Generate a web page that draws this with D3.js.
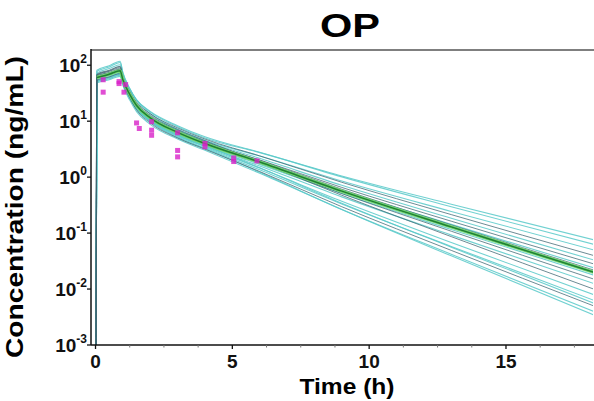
<!DOCTYPE html>
<html>
<head>
<meta charset="utf-8">
<script src="https://cdn.jsdelivr.net/npm/d3@7/dist/d3.min.js"></script>
<style>
  html, body { margin: 0; padding: 0; background: #fff; }
  svg { display: block; }
  text { font-family: "Liberation Sans", Arial, Helvetica, sans-serif; }
</style>
</head>
<body>
<svg id="chart" width="594" height="401"></svg>
<script>
// ---------- data ----------
const title = "OP";
const xLabel = "Time (h)";
const yLabel = "Concentration (ng/mL)";
const xTicks = [0, 5, 10, 15];
const xMinorTicks = [1.25, 2.5, 3.75, 6.25, 7.5, 8.75, 11.25, 12.5, 13.75, 16.25, 17.5];
const yTickExponents = [-3, -2, -1, 0, 1, 2];

// simulation time grid (h)
const simTimes = [0.02, 0.05, 0.5, 0.9, 1.0, 1.25, 1.5, 2, 3, 4, 6, 9, 13, 18.2];
// simulated individual profiles (ng/mL)
const simCurves = [
  [0.001, 77.6, 93.3, 112, 72.4, 38.0, 24.0, 14.5, 7.94, 5.01, 2.74, 1.05, 0.328, 0.0759],
  [0.001, 72.4, 87.1, 102, 66.1, 37.0, 24.0, 14.9, 8.32, 5.25, 2.78, 1.01, 0.296, 0.0631],
  [0.001, 81.3, 97.7, 118, 74.1, 38.7, 23.4, 13.6, 7.24, 4.57, 2.39, 0.853, 0.244, 0.0501],
  [0.001, 66.1, 77.6, 89.1, 60.3, 33.7, 21.9, 13.6, 7.59, 4.79, 2.40, 0.809, 0.214, 0.0398],
  [0.001, 57.5, 66.1, 75.9, 52.5, 29.6, 19.5, 12.2, 6.92, 4.37, 2.17, 0.715, 0.184, 0.0331],
  [0.001, 69.2, 81.3, 95.5, 63.1, 34.0, 20.9, 12.2, 6.61, 4.17, 2.03, 0.655, 0.163, 0.0282],
  [0.001, 60.3, 69.2, 79.4, 55.0, 29.9, 18.6, 11.1, 6.03, 3.80, 1.84, 0.583, 0.143, 0.0240],
  [0.001, 63.1, 72.4, 83.2, 57.5, 31.8, 20.2, 12.2, 6.76, 4.27, 2.00, 0.608, 0.140, 0.0219],
  [0.001, 55.0, 63.1, 72.4, 50.1, 27.5, 17.4, 10.5, 5.75, 3.63, 1.69, 0.508, 0.116, 0.0178],
  [0.001, 67.6, 79.4, 93.3, 61.7, 33.1, 20.2, 11.7, 6.31, 3.98, 1.79, 0.509, 0.108, 0.0151],
  [0.001, 52.5, 60.3, 69.2, 47.9, 26.4, 16.8, 10.2, 5.62, 3.55, 1.58, 0.444, 0.0920, 0.0126],
  [0.001, 64.6, 74.1, 85.1, 58.9, 32.7, 20.9, 12.8, 7.08, 4.47, 1.86, 0.474, 0.0865, 0.0100],
  [0.001, 50.1, 57.5, 66.1, 45.7, 25.4, 16.2, 9.91, 5.50, 3.47, 1.45, 0.371, 0.0681, 0.00794],
  [0.001, 60.3, 69.2, 79.4, 55.0, 29.1, 17.4, 9.91, 5.25, 3.31, 1.35, 0.332, 0.0578, 0.00631],
  [0.001, 53.7, 61.7, 70.8, 49.0, 26.3, 16.0, 9.33, 5.01, 3.16, 1.26, 0.296, 0.0491, 0.00501],
  [0.001, 47.9, 55.0, 63.1, 43.7, 23.8, 14.8, 8.79, 4.79, 3.02, 1.17, 0.265, 0.0417, 0.00398],
  [0.001, 63.1, 72.4, 83.2, 57.5, 30.1, 17.6, 9.82, 5.13, 3.24, 1.22, 0.264, 0.0392, 0.00347],
  [0.001, 51.3, 58.9, 67.6, 46.8, 26.2, 17.0, 10.5, 5.89, 3.72, 1.47, 0.343, 0.0560, 0.00562]
];
// 'c' = cyan profile, 'd' = dark profile
const simKinds = ["c","c","c","d","c","d","c","d","c","d","c","d","c","c","d","c","c","c"];
// median profile (ng/mL)
const medianCurve = [0.001, 60.3, 69.2, 79.4, 55.0, 30.2, 19.1, 11.5, 6.31, 3.98, 1.86, 0.562, 0.129, 0.0200];

// observed concentrations
const obsTime = [0.28, 0.28, 0.86, 0.86, 1.1, 1.04, 1.5, 1.6, 2.05, 2.05, 2.05, 3.0, 3.0, 3.0, 4.0, 4.0, 5.05, 5.05, 5.9];
const obsConc = [55, 33, 47, 51, 45, 33, 9.3, 7.4, 9.8, 6.9, 5.6, 6.2, 3.0, 2.3, 4.0, 3.5, 2.2, 1.9, 1.95];

// ---------- layout ----------
const svg = d3.select("#chart");
const plotLeft = 91, plotRight = 593, plotTop = 49, plotBottom = 345;

const x = d3.scaleLinear().domain([-0.165, 18.18]).range([plotLeft, plotRight]);
const y = d3.scaleLog().domain([1e-3, Math.pow(10, 2.29)]).range([plotBottom, plotTop]);

svg.append("defs").append("clipPath").attr("id", "clip")
  .append("rect").attr("x", plotLeft).attr("y", plotTop)
  .attr("width", plotRight - plotLeft).attr("height", plotBottom - plotTop);

const line = d3.line()
  .x(d => x(d[0]))
  .y(d => y(d[1]))
  .curve(d3.curveMonotoneX);
const pairs = c => c.map((v, i) => [simTimes[i], v]);

const g = svg.append("g").attr("clip-path", "url(#clip)");

// cyan curves
simCurves.forEach((c, i) => {
  if (simKinds[i] !== "c") return;
  g.append("path").attr("d", line(pairs(c)))
    .attr("fill", "none").attr("stroke", "#58c9c9")
    .attr("stroke-width", 1.1).attr("stroke-opacity", 0.85);
});
// dark curves
simCurves.forEach((c, i) => {
  if (simKinds[i] !== "d") return;
  g.append("path").attr("d", line(pairs(c)))
    .attr("fill", "none").attr("stroke", "#3f6672")
    .attr("stroke-width", 0.9).attr("stroke-opacity", 0.85);
});
// median (drawn from its first plateau point onward)
const medPairs = pairs(medianCurve).slice(1);
g.append("path").attr("d", line(medPairs))
  .attr("fill", "none").attr("stroke", "#72d672").attr("stroke-width", 3.4);
g.append("path").attr("d", line(medPairs))
  .attr("fill", "none").attr("stroke", "#1f7f33").attr("stroke-width", 1.5);

// observed points
g.selectAll("rect.obs").data(obsTime).join("rect")
  .attr("class", "obs")
  .attr("x", (d) => x(d) - 2.5)
  .attr("y", (d, i) => y(obsConc[i]) - 2.5)
  .attr("width", 5).attr("height", 5)
  .attr("fill", "#d822c8").attr("fill-opacity", 0.8);

// ---------- axes ----------
// top frame
svg.append("line").attr("x1", plotLeft).attr("x2", 594).attr("y1", 50).attr("y2", 50)
  .attr("stroke", "#555").attr("stroke-width", 1.5);

// x axis
const xAxis = svg.append("g");
xAxis.append("line").attr("x1", plotLeft).attr("x2", 594)
  .attr("y1", plotBottom).attr("y2", plotBottom)
  .attr("stroke", "#111").attr("stroke-width", 1.5);
xAxis.selectAll("line.maj").data(xTicks).join("line").attr("class", "maj")
  .attr("x1", d => x(d)).attr("x2", d => x(d))
  .attr("y1", plotBottom).attr("y2", plotBottom + 4)
  .attr("stroke", "#111").attr("stroke-width", 1.3);
xAxis.selectAll("line.min").data(xMinorTicks).join("line").attr("class", "min")
  .attr("x1", d => x(d)).attr("x2", d => x(d))
  .attr("y1", plotBottom).attr("y2", plotBottom + 2.5)
  .attr("stroke", "#777").attr("stroke-width", 1);
xAxis.selectAll("text").data(xTicks).join("text")
  .attr("x", d => x(d)).attr("y", 368)
  .attr("text-anchor", "middle")
  .attr("font-size", 19).attr("font-weight", "bold").attr("fill", "#111")
  .text(d => d);

// y axis
const yAxis = svg.append("g");
yAxis.append("line").attr("x1", plotLeft).attr("x2", plotLeft)
  .attr("y1", plotTop).attr("y2", plotBottom)
  .attr("stroke", "#111").attr("stroke-width", 1.5);
yAxis.selectAll("line.maj").data(yTickExponents).join("line").attr("class", "maj")
  .attr("x1", plotLeft - 4).attr("x2", plotLeft)
  .attr("y1", d => y(Math.pow(10, d))).attr("y2", d => y(Math.pow(10, d)))
  .attr("stroke", "#111").attr("stroke-width", 1.3);
const yt = yAxis.selectAll("text").data(yTickExponents).join("text")
  .attr("x", 87).attr("y", d => y(Math.pow(10, d)) + 7)
  .attr("text-anchor", "end")
  .attr("font-size", 19).attr("font-weight", "bold").attr("fill", "#111");
yt.append("tspan").text("10");
yt.append("tspan").attr("dy", -9).attr("font-size", 12).text(d => d);

// labels
svg.append("text").attr("x", 350).attr("y", 37)
  .attr("text-anchor", "middle").attr("font-size", 33).attr("font-weight", "bold")
  .attr("textLength", 60).attr("lengthAdjust", "spacingAndGlyphs")
  .text(title);

svg.append("text").attr("x", 347).attr("y", 394)
  .attr("text-anchor", "middle").attr("font-size", 22).attr("font-weight", "bold")
  .attr("textLength", 95).attr("lengthAdjust", "spacingAndGlyphs")
  .text(xLabel);

svg.append("text").attr("transform", "translate(23,207) rotate(-90)")
  .attr("text-anchor", "middle").attr("font-size", 24).attr("font-weight", "bold")
  .attr("textLength", 302).attr("lengthAdjust", "spacingAndGlyphs")
  .text(yLabel);
</script>
</body>
</html>
